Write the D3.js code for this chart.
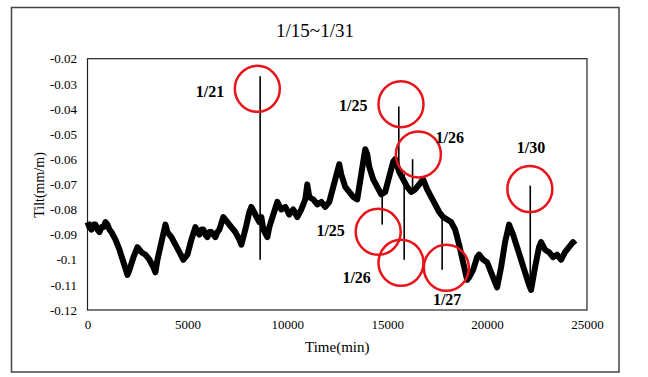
<!DOCTYPE html>
<html>
<head>
<meta charset="utf-8">
<script src="https://cdn.jsdelivr.net/npm/d3@7"></script>
<style>
  body { margin: 0; background: #fff; }
  svg text { font-family: "Liberation Serif", "Times New Roman", serif !important; }
</style>
</head>
<body>
<div id="chart"></div>
<script>
// chart data
var title = "1/15~1/31";
var yTicks = [-0.02, -0.03, -0.04, -0.05, -0.06, -0.07, -0.08, -0.09, -0.1, -0.11, -0.12];
var yTickLabels = ["-0.02", "-0.03", "-0.04", "-0.05", "-0.06", "-0.07", "-0.08", "-0.09", "-0.1", "-0.11", "-0.12"];
var xTicks = [0, 5000, 10000, 15000, 20000, 25000];

// tilt series [time(min), tilt(mm/m)]
var tilt = [
  [0, -0.085], [100, -0.087], [200, -0.088], [300, -0.086], [400, -0.086], [500, -0.088], [600, -0.089],
  [700, -0.087], [800, -0.087], [900, -0.085], [1000, -0.086], [1100, -0.088],
  [1200, -0.089], [1400, -0.092], [1600, -0.096], [1800, -0.101], [2000, -0.106], [2100, -0.104],
  [2300, -0.099], [2500, -0.095], [2700, -0.097], [2900, -0.098], [3100, -0.100], [3300, -0.103],
  [3400, -0.105], [3500, -0.100], [3700, -0.093], [3900, -0.086], [4000, -0.089], [4200, -0.091],
  [4400, -0.094], [4600, -0.097], [4800, -0.100], [5000, -0.098], [5200, -0.092], [5400, -0.087],
  [5500, -0.089], [5600, -0.090], [5700, -0.088], [5800, -0.088], [5900, -0.090], [6000, -0.091],
  [6100, -0.089], [6200, -0.089], [6300, -0.090], [6400, -0.091], [6500, -0.089], [6600, -0.088],
  [6800, -0.083], [7000, -0.085], [7200, -0.087], [7400, -0.089], [7600, -0.092], [7700, -0.094],
  [7900, -0.088], [8100, -0.081], [8200, -0.079], [8400, -0.082], [8600, -0.085], [8700, -0.083],
  [8800, -0.088], [9000, -0.091], [9100, -0.087], [9300, -0.082], [9500, -0.077], [9700, -0.080],
  [9900, -0.079], [10100, -0.082], [10300, -0.080], [10500, -0.083], [10700, -0.080], [10900, -0.076],
  [11000, -0.070], [11100, -0.075], [11300, -0.076], [11500, -0.078], [11700, -0.077], [11900, -0.079],
  [12100, -0.077], [12300, -0.071], [12500, -0.065], [12600, -0.062], [12700, -0.066], [12900, -0.071],
  [13100, -0.073], [13300, -0.075], [13500, -0.076], [13700, -0.066], [13900, -0.056], [14000, -0.058],
  [14100, -0.063], [14300, -0.068], [14500, -0.071], [14700, -0.074], [14900, -0.073], [15100, -0.067],
  [15300, -0.061], [15400, -0.060], [15600, -0.065], [15800, -0.068], [16000, -0.071], [16200, -0.073],
  [16400, -0.072], [16600, -0.070], [16800, -0.068], [17000, -0.072], [17200, -0.075], [17400, -0.078],
  [17600, -0.081], [17800, -0.083], [18000, -0.084], [18200, -0.085], [18400, -0.088], [18600, -0.094],
  [18800, -0.101], [19000, -0.108], [19100, -0.107], [19300, -0.104], [19500, -0.099], [19600, -0.098],
  [19800, -0.100], [20000, -0.101], [20200, -0.105], [20400, -0.109], [20500, -0.111], [20700, -0.103],
  [20900, -0.093], [21100, -0.086], [21300, -0.090], [21500, -0.095], [21700, -0.100], [21900, -0.105],
  [22100, -0.110], [22200, -0.112], [22400, -0.103], [22600, -0.095], [22700, -0.093], [22900, -0.096],
  [23100, -0.097], [23300, -0.099], [23500, -0.098], [23700, -0.100], [23900, -0.097], [24100, -0.095],
  [24300, -0.093], [24400, -0.094]
];

// single-sample spikes [time, from, to]
var spikes = [
  [8640, -0.027, -0.1],
  [15580, -0.039, -0.062],
  [15850, -0.066, -0.1],
  [14750, -0.074, -0.086],
  [16270, -0.060, -0.072],
  [17750, -0.082, -0.104],
  [22160, -0.0705, -0.111]
];

// red circles [time, tilt] and their date labels
var circles = [
  [8500, -0.0320], [15690, -0.0381], [16560, -0.0581], [22140, -0.0719],
  [14550, -0.0889], [15690, -0.1012], [17960, -0.1032]
];
var labels = [
  ["1/21", 6130, -0.0329], ["1/25", 13300, -0.0385], ["1/26", 18130, -0.0515], ["1/30", 22200, -0.0554],
  ["1/25", 12170, -0.0882], ["1/26", 13470, -0.1071], ["1/27", 18000, -0.1158]
];

var svgWidth = 648;
var svgHeight = 377;
var margin = { top: 58.7, right: 61, bottom: 67, left: 87.5 };
var chartWidth = svgWidth - margin.left - margin.right;
var chartHeight = svgHeight - margin.top - margin.bottom;

var svg = d3.select("#chart")
  .append("svg")
  .attr("width", svgWidth)
  .attr("height", svgHeight);

// outer frame
svg.append("rect")
  .attr("x", 11.5).attr("y", 7.5)
  .attr("width", 607.5).attr("height", 364.5)
  .attr("fill", "none")
  .attr("stroke", "#444")
  .attr("stroke-width", 1.5);

svg.append("text")
  .attr("x", 315).attr("y", 36.5)
  .attr("text-anchor", "middle")
  .attr("font-size", "19px")
  .text(title);

var chartGroup = svg.append("g")
  .attr("transform", `translate(${margin.left}, ${margin.top})`);

var x = d3.scaleLinear().domain([0, 25000]).range([0, chartWidth]);
var y = d3.scaleLinear().domain([-0.12, -0.02]).range([chartHeight, 0]);

// axes with labels only
var bottomAxis = d3.axisBottom(x).tickValues(xTicks).tickSize(0).tickPadding(10).tickFormat(d3.format("d"));
var leftAxis = d3.axisLeft(y).tickValues(yTicks).tickSize(0).tickPadding(10.5)
  .tickFormat((d, i) => yTickLabels[i]);

var gx = chartGroup.append("g")
  .attr("transform", `translate(0, ${chartHeight})`)
  .call(bottomAxis);
var gy = chartGroup.append("g").call(leftAxis);
[gx, gy].forEach(function(g) {
  g.select(".domain").remove();
  g.selectAll("text")
    .attr("font-size", "13px")
    .attr("fill", "#000");
});

chartGroup.append("rect")
  .attr("x", 0).attr("y", 0)
  .attr("width", chartWidth).attr("height", chartHeight)
  .attr("fill", "none")
  .attr("stroke", "#222")
  .attr("stroke-width", 1.2);

// tilt band
var line = d3.line().x(d => x(d[0])).y(d => y(d[1]));
chartGroup.append("path")
  .datum(tilt)
  .attr("d", line)
  .attr("fill", "none")
  .attr("stroke", "#000")
  .attr("stroke-width", 6)
  .attr("stroke-linejoin", "round");

chartGroup.selectAll(".spike")
  .data(spikes)
  .enter()
  .append("line")
  .attr("x1", d => x(d[0])).attr("x2", d => x(d[0]))
  .attr("y1", d => y(d[1])).attr("y2", d => y(d[2]))
  .attr("stroke", "#000")
  .attr("stroke-width", 1.6);

chartGroup.selectAll(".mark")
  .data(circles)
  .enter()
  .append("ellipse")
  .attr("cx", d => x(d[0]))
  .attr("cy", d => y(d[1]))
  .attr("rx", 22.5)
  .attr("ry", 23)
  .attr("fill", "none")
  .attr("stroke", "#e8141b")
  .attr("stroke-width", 2.5);

chartGroup.selectAll(".date")
  .data(labels)
  .enter()
  .append("text")
  .attr("x", d => x(d[1]))
  .attr("y", d => y(d[2]))
  .attr("dy", "0.35em")
  .attr("text-anchor", "middle")
  .attr("font-size", "16px")
  .attr("font-weight", "bold")
  .text(d => d[0]);

svg.append("text")
  .attr("x", margin.left + chartWidth / 2)
  .attr("y", 352)
  .attr("text-anchor", "middle")
  .attr("font-size", "15px")
  .text("Time(min)");

svg.append("text")
  .attr("transform", "rotate(-90)")
  .attr("x", -185)
  .attr("y", 44)
  .attr("text-anchor", "middle")
  .attr("font-size", "14px")
  .text("Tilt(mm/m)");
</script>
</body>
</html>
